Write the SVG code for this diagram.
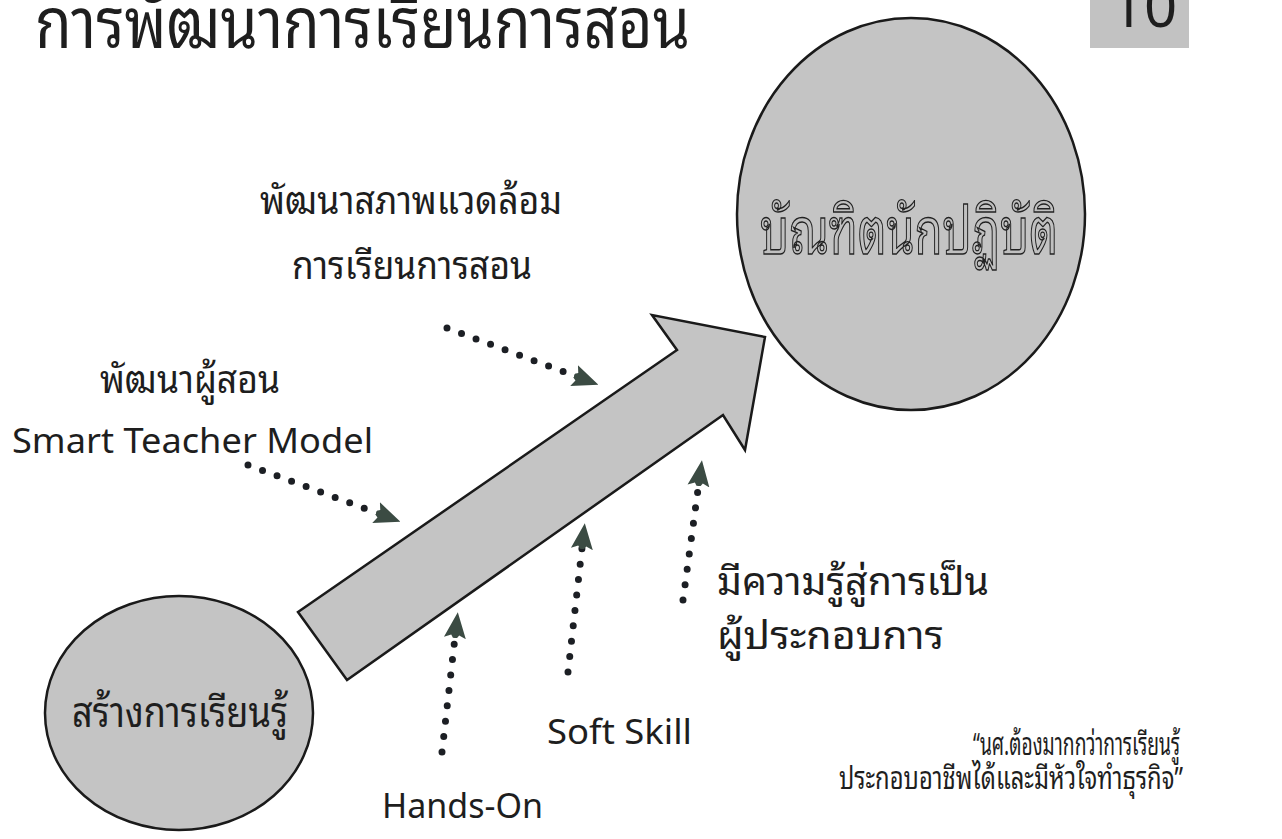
<svg xmlns="http://www.w3.org/2000/svg" width="1282" height="839" viewBox="0 0 1282 839">
<defs>
<style>
.t{font-family:"Noto Sans Thai Looped","Loma","Garuda","Tahoma","Noto Sans Thai","Noto Sans","DejaVu Sans",sans-serif;fill:#1e1e1e}
.lab{font-size:39px}
.en{font-family:"Noto Sans","DejaVu Sans",sans-serif;font-size:35px;fill:#1e1e1e}
.shape{fill:#c4c4c4;stroke:#1a1a1a;stroke-width:2.5}
.dot{fill:none;stroke:#1c1f24;stroke-width:7;stroke-linecap:round;stroke-dasharray:0 15.5}
</style>
<marker id="ah" viewBox="0 0 26 24" refX="1" refY="12" markerWidth="26" markerHeight="24" markerUnits="userSpaceOnUse" orient="auto">
<path d="M0,1 L26,12 L0,23 L3,16 L0,14 L0,10 L3,8 Z" fill="#3b4b43"/>
</marker>
</defs>
<rect width="1282" height="839" fill="#ffffff"/>
<text class="t" x="35" y="48" font-size="70" textLength="655" lengthAdjust="spacingAndGlyphs">การพัฒนาการเรียนการสอน</text>
<g id="page-number">
<rect x="1090" y="-4" width="99" height="52" fill="#c2c2c2"/>
<text class="en" x="1144" y="27" style="font-size:58px" text-anchor="middle">10</text>
</g>
<g id="node-graduate">
<ellipse class="shape" cx="911" cy="214" rx="174" ry="196"/>
<text class="t" x="760" y="254" font-size="66" textLength="298" lengthAdjust="spacingAndGlyphs" style="fill:#c0c0c0;stroke:#222;stroke-width:1.4">บัณฑิตนักปฏิบัติ</text>
</g>
<g id="node-learning">
<ellipse class="shape" cx="179" cy="713" rx="134" ry="117"/>
<text class="t" x="72" y="727" font-size="43" textLength="216" lengthAdjust="spacingAndGlyphs">สร้างการเรียนรู้</text>
</g>
<g id="node-arrow">
<polygon class="shape" points="298,612 677,350 652,315 765,337 745,450 723,415 347,680"/>
</g>
<g id="connectors">
<path class="dot" d="M447,328 L575,376" marker-end="url(#ah)"/>
<path class="dot" d="M248,465 L377,513" marker-end="url(#ah)"/>
<path class="dot" d="M442,752 L455,637" marker-end="url(#ah)"/>
<path class="dot" d="M568,672 L582,548" marker-end="url(#ah)"/>
<path class="dot" d="M683,600 L698.6,485" marker-end="url(#ah)"/>
</g>
<g id="label-environment">
<text class="t lab" x="260" y="214" textLength="302" lengthAdjust="spacingAndGlyphs">พัฒนาสภาพแวดล้อม</text>
<text class="t lab" x="292" y="279" textLength="240" lengthAdjust="spacingAndGlyphs">การเรียนการสอน</text>
</g>
<g id="label-teacher">
<text class="t lab" x="100" y="393" textLength="180" lengthAdjust="spacingAndGlyphs">พัฒนาผู้สอน</text>
<text class="en" x="12" y="453" textLength="361" lengthAdjust="spacingAndGlyphs">Smart Teacher Model</text>
</g>
<g id="label-entrepreneur">
<text class="t lab" x="717" y="595" textLength="272" lengthAdjust="spacingAndGlyphs">มีความรู้สู่การเป็น</text>
<text class="t lab" x="717" y="649" textLength="227" lengthAdjust="spacingAndGlyphs">ผู้ประกอบการ</text>
</g>
<g id="label-softskill">
<text class="en" x="547" y="744" textLength="145" lengthAdjust="spacingAndGlyphs">Soft Skill</text>
</g>
<g id="label-handson">
<text class="en" x="382" y="818" textLength="161" lengthAdjust="spacingAndGlyphs">Hands-On</text>
</g>
<g id="quote">
<text class="t" x="973" y="755" font-size="31" textLength="207" lengthAdjust="spacingAndGlyphs">“นศ.ต้องมากกว่าการเรียนรู้</text>
<text class="t" x="839" y="789" font-size="31" textLength="344" lengthAdjust="spacingAndGlyphs">ประกอบอาชีพได้และมีหัวใจทำธุรกิจ”</text>
</g>
</svg>
